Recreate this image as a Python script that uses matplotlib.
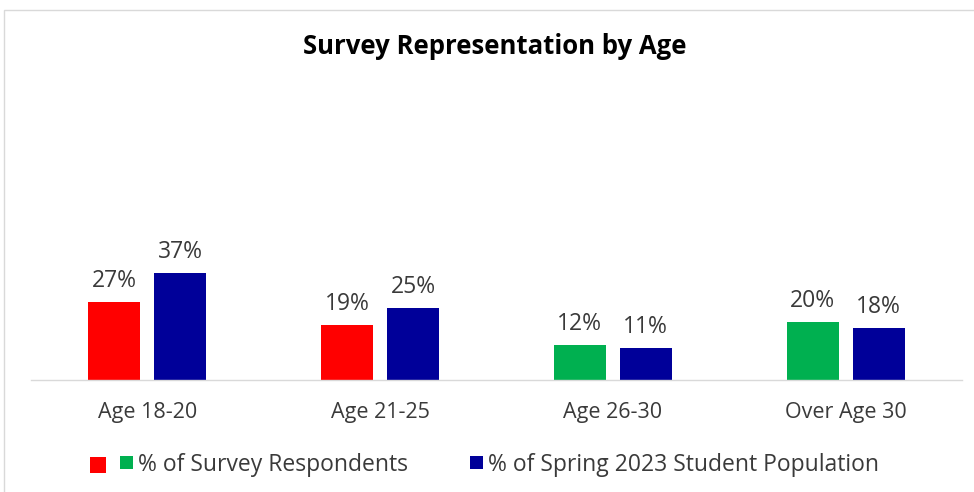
import matplotlib
matplotlib.use("Agg")
import matplotlib.pyplot as plt
from matplotlib.patches import Patch, Rectangle
import numpy as np

# data
categories = ["Age 18-20", "Age 21-25", "Age 26-30", "Over Age 30"]
survey_pct = [27, 19, 12, 20]
population_pct = [37, 25, 11, 18]
survey_colors = ["#FF0000", "#FF0000", "#00B050", "#00B050"]
navy = "#000099"
legend_labels = ["% of Survey Respondents", "% of Spring 2023 Student Population"]

plt.rcParams['font.family'] = ['Open Sans', 'DejaVu Sans']
TXT = "#3a3a3a"

W, H = 974, 492
PX = 0.72  # points per pixel at dpi 100
fig = plt.figure(figsize=(W / 100, H / 100), dpi=100)
fig.patch.set_facecolor("white")

# axes placed in pixel terms: x 31..962, baseline at y=380
left, right = 31, 962
bottom, top = 380, 80
ax = fig.add_axes([left / W, 1 - bottom / H, (right - left) / W, (bottom - top) / H])

x = np.arange(len(categories))
bw = 0.223
off = 0.1416

bars1 = ax.bar(x - off, survey_pct, bw, color=survey_colors)
bars2 = ax.bar(x + off, population_pct, bw, color=navy)

for bars, vals in ((bars1, survey_pct), (bars2, population_pct)):
    for b, v in zip(bars, vals):
        ax.annotate(f"{v}%", (b.get_x() + b.get_width() / 2, v),
                    xytext=(0, 15 * PX), textcoords="offset points",
                    ha="center", va="baseline", fontsize=16.5, color=TXT)

ax.set_xlim(-0.5, 3.5)
ax.set_ylim(0, (bottom - top) / 2.89)
ax.set_xticks(x)
ax.set_xticklabels(categories, fontsize=15.5, color=TXT)
ax.tick_params(axis="x", length=0, pad=16)
ax.set_yticks([])
for s in ("left", "right", "top"):
    ax.spines[s].set_visible(False)
ax.spines["bottom"].set_color("#D9D9D9")
ax.spines["bottom"].set_linewidth(1)

fig.text(495 / W, 1 - 46 / H, "Survey Representation by Age",
         ha="center", va="center", fontsize=18.5, fontweight="bold", color="black")


# legend swatches: squares drawn at fixed pixel positions inside the handle box
class Squares:
    def __init__(self, specs):
        # specs: list of (x_px, size_px, dy_px, color) measured from handle left
        self.specs = specs

    def legend_artist(self, legend, orig_handle, fontsize, handlebox):
        tr = handlebox.get_transform()
        cy = handlebox.height / 2 - handlebox.ydescent
        art = None
        for xp, sp, dy, col in self.specs:
            art = Rectangle((xp * PX - handlebox.xdescent, cy - sp * PX / 2 - dy * PX),
                            sp * PX, sp * PX, facecolor=col, edgecolor="none",
                            transform=tr)
            handlebox.add_artist(art)
        return art


h_survey = Patch(facecolor="#FF0000")
h_pop = Patch(facecolor=navy)
leg_fs = 16.5
fig.legend([h_survey, h_pop], legend_labels,
           handler_map={h_survey: Squares([(0, 16, 2, "#FF0000"), (30, 13, 0, "#00B050")]),
                        h_pop: Squares([(30, 13, 0, navy)])},
           loc="center", bbox_to_anchor=(484 / W, 1 - 465 / H), ncol=2,
           frameon=False, fontsize=leg_fs, labelcolor=TXT,
           handlelength=43 * PX / leg_fs, handleheight=0.7,
           handletextpad=5 * PX / leg_fs, columnspacing=32 * PX / leg_fs)

# chart border (light gray), only top and left visible in the reference
fig.patches.append(Rectangle((4 / W, -0.05), 1.1, 1 - 10 / H + 0.05,
                             transform=fig.transFigure, fill=False,
                             edgecolor="#D9D9D9", linewidth=1))

fig.savefig("out.png", dpi=100)
